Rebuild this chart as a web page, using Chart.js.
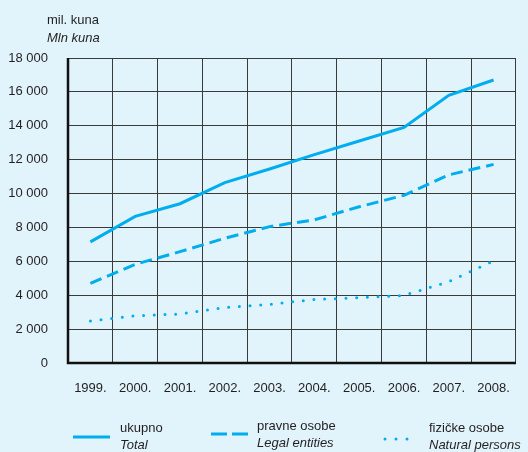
<!DOCTYPE html>
<html>
<head>
<meta charset="utf-8">
<script src="https://cdn.jsdelivr.net/npm/chart.js@4"></script>
<style>
  html, body { margin: 0; padding: 0; background: #e1f3fb; }
  #wrap { position: relative; width: 528px; height: 452px; }
</style>
</head>
<body>
<div id="wrap"><canvas id="c" width="528" height="452"></canvas></div>
<script>
const years = ['1999.', '2000.', '2001.', '2002.', '2003.', '2004.', '2005.', '2006.', '2007.', '2008.'];
const total = [7150, 8650, 9400, 10650, 11450, 12300, 13100, 13900, 15800, 16700];
const legalEntities = [4700, 5820, 6570, 7360, 8050, 8450, 9220, 9900, 11100, 11720];
const naturalPersons = [2480, 2790, 2890, 3280, 3460, 3750, 3850, 3990, 4800, 6020];
const yTicks = [0, 2000, 4000, 6000, 8000, 10000, 12000, 14000, 16000, 18000];
const seriesNames = [['ukupno', 'Total'], ['pravne osobe', 'Legal entities'], ['fizičke osobe', 'Natural persons']];
const unitLabel = ['mil. kuna', 'Mln kuna'];

const LINE = '#00aeef';
const FONT = "'Liberation Sans', Arial, sans-serif";
const FS = 13;
const TXT = '#231f20';

function fmt(v) { return String(v).replace(/\B(?=(\d{3})+(?!\d))/g, ' '); }

const extras = {
  id: 'extras',
  afterDraw(chart) {
    const ctx = chart.ctx;
    const a = chart.chartArea;
    ctx.save();
    // axes lines
    ctx.strokeStyle = '#111';
    ctx.lineWidth = 2.5;
    ctx.beginPath();
    ctx.moveTo(a.left, a.top);
    ctx.lineTo(a.left, a.bottom);
    ctx.lineTo(a.right, a.bottom);
    ctx.stroke();
    // unit label
    ctx.fillStyle = TXT;
    ctx.textBaseline = 'middle';
    ctx.textAlign = 'left';
    ctx.font = FS + 'px ' + FONT;
    ctx.fillText(unitLabel[0], 47, 20);
    ctx.font = 'italic ' + FS + 'px ' + FONT;
    ctx.fillText(unitLabel[1], 47, 38);
    // legend
    const items = [
      { x0: 73, x1: 110, y: 437, dash: [], cap: 'butt', tx: 120, ty: 428 },
      { x0: 211, x1: 248, y: 434, dash: [16, 5], cap: 'butt', tx: 257, ty: 426 },
      { x0: 385, x1: 418, y: 439, dash: [0, 11], cap: 'round', tx: 429, ty: 428 }
    ];
    items.forEach((it, i) => {
      ctx.strokeStyle = LINE;
      ctx.lineWidth = 3;
      ctx.lineCap = it.cap;
      ctx.setLineDash(it.dash);
      ctx.beginPath();
      ctx.moveTo(it.x0, it.y);
      ctx.lineTo(it.x1, it.y);
      ctx.stroke();
      ctx.setLineDash([]);
      ctx.fillStyle = TXT;
      ctx.font = FS + 'px ' + FONT;
      ctx.fillText(seriesNames[i][0], it.tx, it.ty);
      ctx.font = 'italic ' + FS + 'px ' + FONT;
      ctx.fillText(seriesNames[i][1], it.tx, it.ty + 17);
    });
    ctx.restore();
  }
};

const bg = {
  id: 'bg',
  beforeDraw(chart) {
    const ctx = chart.ctx;
    ctx.save();
    ctx.fillStyle = '#e1f3fb';
    ctx.fillRect(0, 0, chart.width, chart.height);
    ctx.restore();
  }
};

new Chart(document.getElementById('c'), {
  type: 'line',
  data: {
    labels: years,
    datasets: [
      { label: seriesNames[0].join(' / '), data: total, borderColor: LINE, borderWidth: 3, pointRadius: 0, tension: 0, borderCapStyle: 'butt' },
      { label: seriesNames[1].join(' / '), data: legalEntities, borderColor: LINE, borderWidth: 3, pointRadius: 0, tension: 0, borderDash: [12, 6] },
      { label: seriesNames[2].join(' / '), data: naturalPersons, borderColor: LINE, borderWidth: 3, pointRadius: 0, tension: 0, borderDash: [0, 10.7], borderCapStyle: 'round' }
    ]
  },
  options: {
    responsive: false,
    animation: false,
    devicePixelRatio: 1,
    layout: { padding: { top: 58, right: 3, left: 0, bottom: 0 } },
    plugins: { legend: { display: false }, tooltip: { enabled: false } },
    scales: {
      x: {
        offset: true,
        grid: { offset: true, color: '#3a3a3a', lineWidth: 1, drawTicks: false },
        border: { display: false },
        ticks: { color: TXT, font: { family: FONT, size: FS }, padding: 18, maxRotation: 0, autoSkip: false },
        afterFit(s) { s.height = 89; }
      },
      y: {
        min: 0, max: 18000,
        afterBuildTicks(s) { s.ticks = yTicks.map(v => ({ value: v })); },
        grid: { color: '#3a3a3a', lineWidth: 1, drawTicks: false },
        border: { display: false },
        ticks: { color: TXT, font: { family: FONT, size: FS }, padding: 20, callback: v => fmt(v) },
        afterFit(s) { s.width = 68; }
      }
    }
  },
  plugins: [bg, extras]
});
</script>
</body>
</html>
